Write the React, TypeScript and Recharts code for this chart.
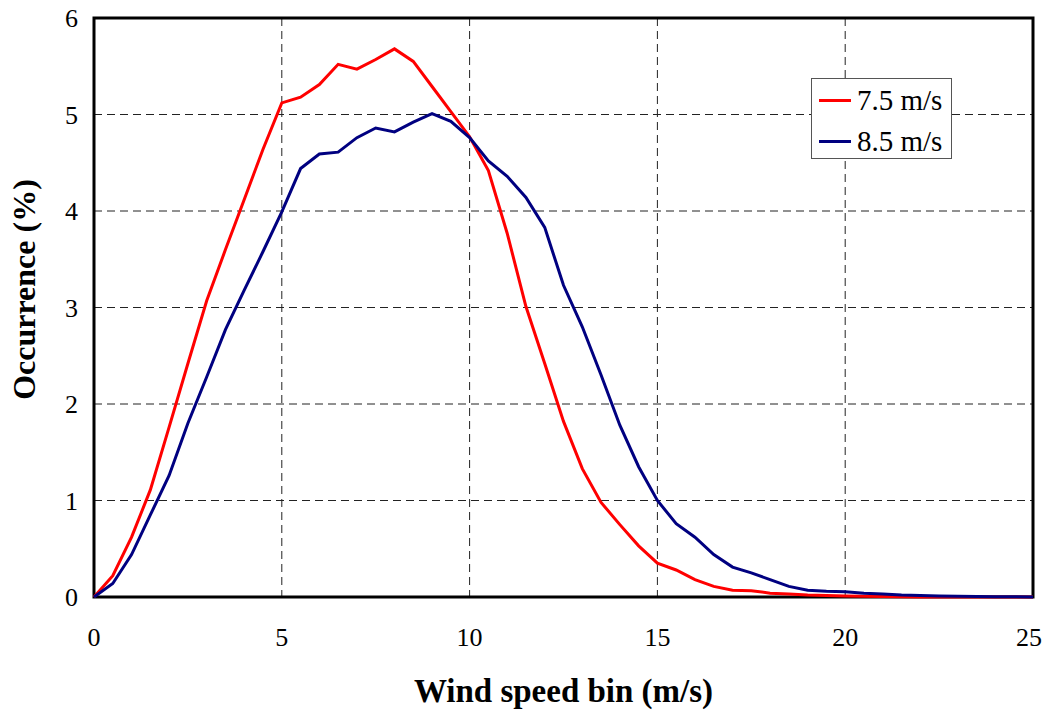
import { LineChart, Line, XAxis, YAxis, CartesianGrid, ReferenceArea, Legend, Label } from 'recharts';

const windBins = [
  0, 0.5, 1, 1.5, 2, 2.5, 3, 3.5, 4, 4.5, 5, 5.5, 6, 6.5, 7, 7.5, 8, 8.5, 9, 9.5,
  10, 10.5, 11, 11.5, 12, 12.5, 13, 13.5, 14, 14.5, 15, 15.5, 16, 16.5, 17, 17.5,
  18, 18.5, 19, 19.5, 20, 20.5, 21, 21.5, 22, 22.5, 23, 23.5, 24, 24.5, 25,
];

const occ75 = [
  0, 0.22, 0.62, 1.11, 1.76, 2.42, 3.07, 3.6, 4.12, 4.64, 5.12, 5.18, 5.31, 5.52, 5.47, 5.57, 5.68, 5.55, 5.29, 5.03,
  4.77, 4.42, 3.77, 3.01, 2.42, 1.82, 1.33, 0.98, 0.75, 0.53, 0.35, 0.28, 0.18, 0.11, 0.07, 0.065,
  0.04, 0.03, 0.02, 0.015, 0.01, 0.008, 0.005, 0.003, 0, 0, 0, 0, 0, 0, 0,
];

const occ85 = [
  0, 0.14, 0.44, 0.85, 1.26, 1.8, 2.28, 2.77, 3.18, 3.58, 3.99, 4.44, 4.59, 4.61, 4.76, 4.86, 4.82, 4.92, 5.01, 4.93,
  4.76, 4.52, 4.36, 4.14, 3.83, 3.23, 2.8, 2.3, 1.78, 1.35, 1.0, 0.76, 0.62, 0.44, 0.31, 0.25,
  0.18, 0.11, 0.07, 0.06, 0.055, 0.04, 0.03, 0.02, 0.015, 0.01, 0.008, 0.005, 0.003, 0.002, 0.001,
];

const xTicks = [0, 5, 10, 15, 20, 25];
const yTicks = [0, 1, 2, 3, 4, 5, 6];

const data = windBins.map((x, i) => ({ x, a: occ75[i], b: occ85[i] }));

const FONT = '"Liberation Serif", "Times New Roman", serif';

const LegendBox = ({ payload }: any) => (
  <div
    style={{
      border: '1px solid #555',
      background: '#fff',
      width: 141,
      height: 81,
      boxSizing: 'border-box',
      paddingTop: 1,
      fontFamily: FONT,
      fontSize: 29,
      color: '#000',
    }}
  >
    {(payload || []).map((p: any) => (
      <div key={p.value} style={{ display: 'flex', alignItems: 'center', height: 41 }}>
        <span style={{ display: 'inline-block', width: 32, height: 3, background: p.color, marginLeft: 7, marginRight: 6 }} />
        <span>{p.value}</span>
      </div>
    ))}
  </div>
);

export default function App() {
  return (
    <div style={{ position: 'absolute', left: 0, top: 0, width: 1042, height: 713 }}>
      <LineChart width={1042} height={713} data={data} margin={{ top: 18, right: 9, left: 8, bottom: 0 }}>
        <CartesianGrid stroke="#222" strokeDasharray="8 5" strokeWidth={1} />
        <XAxis
          dataKey="x"
          type="number"
          domain={[0, 25]}
          ticks={xTicks}
          height={116}
          axisLine={false}
          tickLine={false}
          tickSize={0}
          tickMargin={31}
          tick={{ fill: '#000', fontSize: 26, fontFamily: FONT }}
        >
          <Label
            content={({ viewBox }: any) => (
              <text
                x={viewBox.x + viewBox.width / 2}
                y={viewBox.y + 105}
                textAnchor="middle"
                fontFamily={FONT}
                fontWeight="bold"
                fontSize={33}
                fill="#000"
              >
                Wind speed bin (m/s)
              </text>
            )}
          />
        </XAxis>
        <YAxis
          type="number"
          domain={[0, 6]}
          ticks={yTicks}
          width={86}
          axisLine={false}
          tickLine={false}
          tickSize={0}
          tickMargin={16}
          tick={{ fill: '#000', fontSize: 26, fontFamily: FONT }}
        >
          <Label
            content={({ viewBox }: any) => {
              const cx = viewBox.x + 27;
              const cy = viewBox.y + viewBox.height / 2 - 18;
              return (
                <text
                  x={cx}
                  y={cy}
                  transform={`rotate(-90 ${cx} ${cy})`}
                  textAnchor="middle"
                  fontFamily={FONT}
                  fontWeight="bold"
                  fontSize={32}
                  fill="#000"
                >
                  Occurrence (%)
                </text>
              );
            }}
          />
        </YAxis>
        <ReferenceArea x1={0} x2={25} y1={0} y2={6} fill="none" stroke="#000" strokeWidth={3} ifOverflow="visible" />
        <Legend
          layout="vertical"
          verticalAlign="middle"
          align="center"
          content={<LegendBox />}
          wrapperStyle={{ left: 811, top: 78, width: 141 }}
        />
        <Line type="linear" dataKey="a" name="7.5 m/s" stroke="#FF0000" strokeWidth={3} dot={false} isAnimationActive={false} />
        <Line type="linear" dataKey="b" name="8.5 m/s" stroke="#000080" strokeWidth={3} dot={false} isAnimationActive={false} />
      </LineChart>
    </div>
  );
}
